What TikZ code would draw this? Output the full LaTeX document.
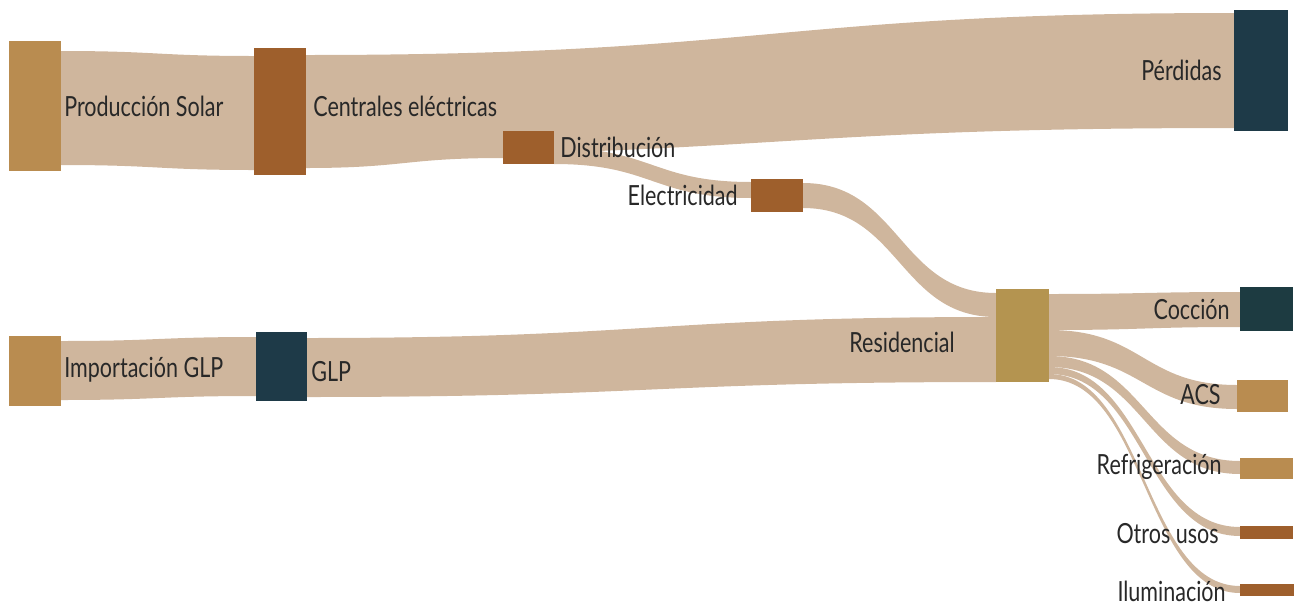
\documentclass[tikz,border=0pt]{standalone}
\usepackage{fontspec}
\setmainfont{Lato}[FakeStretch=0.775]
\usetikzlibrary{positioning,calc,backgrounds}

\definecolor{flowc}{RGB}{207,182,157}
\definecolor{gold}{RGB}{185,140,80}
\definecolor{brown}{RGB}{158,95,44}
\definecolor{navy}{RGB}{30,58,72}
\definecolor{olive}{RGB}{180,148,80}
\definecolor{teal}{RGB}{29,59,65}
\definecolor{txt}{RGB}{40,40,40}

\newcommand{\px}{0.02cm}

% band from node #1 (offsets #2..#3 below its top) to node #4 (offsets #5..#6)
\newcommand{\band}[6]{%
  \fill[flowc] let \p1=(#1.north east), \p2=(#4.north west), \p3=($(\p1)!.5!(\p2)$) in
    (\x1,\y1-#2*\px) .. controls (\x3,\y1-#2*\px) and (\x3,\y2-#5*\px) .. (\x2,\y2-#5*\px)
    -- (\x2,\y2-#6*\px) .. controls (\x3,\y2-#6*\px) and (\x3,\y1-#3*\px) .. (\x1,\y1-#3*\px) -- cycle;}

\tikzset{
  box/.style 2 args={anchor=north west, inner sep=0pt, outer sep=0pt, minimum width=#1*\px, minimum height=#2*\px},
  lbl/.style={inner sep=0pt, text=txt, font=\fontsize{15.8}{18}\selectfont, text height=0.7165em, text depth=0pt, yshift=-4*\px}
}

\begin{document}
\begin{tikzpicture}[x=\px, y=-\px]
\useasboundingbox (0,0) rectangle (1296,606);

% nodes
\node[box={52}{130}, fill=gold] (prod) at (9,41) {};
\node[box={52}{127}, fill=brown] (central) at (254,48) {};
\node[box={51}{33}, fill=brown] (dist) at (503,131) {};
\node[box={52}{33}, fill=brown] (elec) at (751,179) {};
\node[box={54}{121}, fill=navy] (perd) at (1234,10) {};
\node[box={52}{70}, fill=gold] (impglp) at (9,336) {};
\node[box={51}{69}, fill=navy] (glp) at (256,332) {};
\node[box={53}{93}, fill=olive] (resid) at (996,289) {};
\node[box={53}{44}, fill=teal] (coccion) at (1240,287) {};
\node[box={51}{32}, fill=gold] (acs) at (1237,380) {};
\node[box={53}{21}, fill=gold] (refrig) at (1240,458) {};
\node[box={53}{13}, fill=brown] (otros) at (1240,526) {};
\node[box={54}{12}, fill=brown] (ilum) at (1240,584) {};

% flows
\begin{scope}[on background layer]
\band{prod}{10}{124}{central}{8}{122}
\band{central}{7}{108}{perd}{3}{118}
\band{central}{108}{120}{dist}{15}{27}
\band{dist}{17}{33}{elec}{3}{19}
\band{elec}{4}{29}{resid}{4}{28}
\band{impglp}{5}{64}{glp}{5}{64}
\band{glp}{6}{65}{resid}{28}{93}
\band{resid}{5}{41}{coccion}{5}{40}
\band{resid}{41}{67}{acs}{5}{29}
\band{resid}{67}{78}{refrig}{3}{16}
\band{resid}{78}{85}{otros}{1}{10}
\band{resid}{85}{90}{ilum}{2}{9}
\end{scope}

% labels
\node[lbl, right=3*\px of prod] {Producción Solar};
\node[lbl, right=7*\px of central, yshift=5*\px] {Centrales eléctricas};
\node[lbl, right=6*\px of dist] {Distribución};
\node[lbl, left=13*\px of elec] {Electricidad};
\node[lbl, left=12*\px of perd] {Pérdidas};
\node[lbl, right=3*\px of impglp, yshift=4*\px] {Importación GLP};
\node[lbl, right=4*\px of glp, yshift=-4.5*\px] {GLP};
\node[lbl, left=41*\px of resid, yshift=-7*\px] {Residencial};
\node[lbl, left=10*\px of coccion] {Cocción};
\node[lbl, left=16*\px of acs, yshift=2*\px] {ACS};
\node[lbl, left=18*\px of refrig, yshift=4*\px] {Refrigeración};
\node[lbl, left=21*\px of otros, yshift=-1*\px] {Otros usos};
\node[lbl, left=14*\px of ilum, yshift=-1*\px] {Iluminación};
\end{tikzpicture}
\end{document}
